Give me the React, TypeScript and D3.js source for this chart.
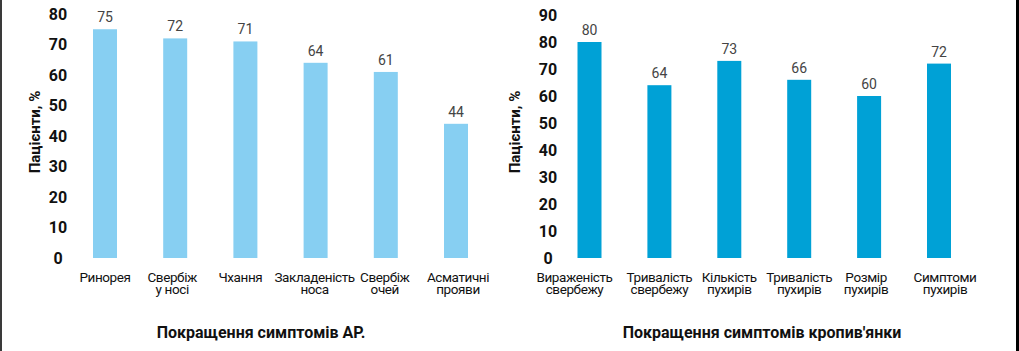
import React from "react";
import * as d3 from "d3";

const arCategories: string[][] = [
  ["Ринорея"],
  ["Свербіж", "у носі"],
  ["Чхання"],
  ["Закладеність", "носа"],
  ["Свербіж", "очей"],
  ["Асматичні", "прояви"],
];
const arValues: number[] = [75, 72, 71, 64, 61, 44];
const arTicks: number[] = [0, 10, 20, 30, 40, 50, 60, 70, 80];

const urtCategories: string[][] = [
  ["Вираженість", "свербежу"],
  ["Тривалість", "свербежу"],
  ["Кількість", "пухирів"],
  ["Тривалість", "пухирів"],
  ["Розмір", "пухирів"],
  ["Симптоми", "пухирів"],
];
const urtValues: number[] = [80, 64, 73, 66, 60, 72];
const urtTicks: number[] = [0, 10, 20, 30, 40, 50, 60, 70, 80, 90];

const yTitle = "Пацієнти, %";
const arTitle = "Покращення симптомів АР.";
const urtTitle = "Покращення симптомів кропив'янки";

const FONT = "Roboto, 'Noto Sans', sans-serif";

// layout-only nudges of category labels (px)
const arLabelShift = [0, -3, -5, -1, -1, 2];
const urtLabelShift = [-15, 0, 0, 0, -3, 6];

type PanelProps = {
  cats: string[][];
  values: number[];
  ticks: number[];
  yMax: number;
  xRange: [number, number];
  yTop: number;
  tickX: number;
  titleX: number;
  yTitleX: number;
  title: string;
  color: string;
  shift: number[];
};

function Panel(p: PanelProps) {
  const keys = p.cats.map((c) => c.join(" "));
  const x = d3.scalePoint<string>().domain(keys).range(p.xRange);
  const y = d3.scaleLinear().domain([0, p.yMax]).range([258, p.yTop]);
  const bw = 24;
  return (
    <g>
      {p.ticks.map((t) => (
        <text
          key={t}
          x={p.tickX}
          y={y(t)}
          dy="0.35em"
          textAnchor="middle"
          fontFamily={FONT}
          fontWeight="bold"
          fontSize={16}
          fill="#111"
        >
          {t}
        </text>
      ))}
      <text
        transform={`translate(${p.yTitleX},132) rotate(-90)`}
        textAnchor="middle"
        dy="0.35em"
        fontFamily={FONT}
        fontWeight="bold"
        fontSize={15}
        fill="#111"
      >
        {yTitle}
      </text>
      {p.values.map((v, i) => {
        const cx = x(keys[i]) as number;
        const lx = cx + p.shift[i];
        return (
          <g key={i}>
            <rect x={cx - bw / 2} y={y(v)} width={bw} height={y(0) - y(v)} fill={p.color} />
            <text
              x={cx}
              y={y(v) - 7}
              textAnchor="middle"
              fontFamily={FONT}
              fontSize={14}
              fill="#444"
            >
              {v}
            </text>
            <text
              textAnchor="middle"
              fontFamily={FONT}
              fontSize={13.5}
              letterSpacing={-0.4}
              fill="#111"
            >
              {p.cats[i].map((line, j) => (
                <tspan key={j} x={lx} y={282 + j * 12}>
                  {line}
                </tspan>
              ))}
            </text>
          </g>
        );
      })}
      <text
        x={p.titleX}
        y={338}
        textAnchor="middle"
        fontFamily={FONT}
        fontWeight="bold"
        fontSize={16}
        fill="#111"
      >
        {p.title}
      </text>
    </g>
  );
}

export default function App() {
  return (
    <svg
      width={1019}
      height={351}
      style={{ position: "absolute", left: 0, top: 0, background: "#fff" }}
    >
      <rect x={0} y={0} width={1019} height={351} fill="#fff" />
      <rect x={0} y={0} width={2} height={351} fill="#3a3a3a" />
      <rect x={1016} y={0} width={3} height={351} fill="#000" />
      <Panel
        cats={arCategories}
        values={arValues}
        ticks={arTicks}
        yMax={80}
        xRange={[105, 456]}
        yTop={14}
        tickX={58}
        titleX={261}
        yTitleX={35}
        title={arTitle}
        color="#87cff2"
        shift={arLabelShift}
      />
      <Panel
        cats={urtCategories}
        values={urtValues}
        ticks={urtTicks}
        yMax={90}
        xRange={[589.5, 939]}
        yTop={15}
        tickX={548}
        titleX={762}
        yTitleX={515}
        title={urtTitle}
        color="#00a1d6"
        shift={urtLabelShift}
      />
    </svg>
  );
}
